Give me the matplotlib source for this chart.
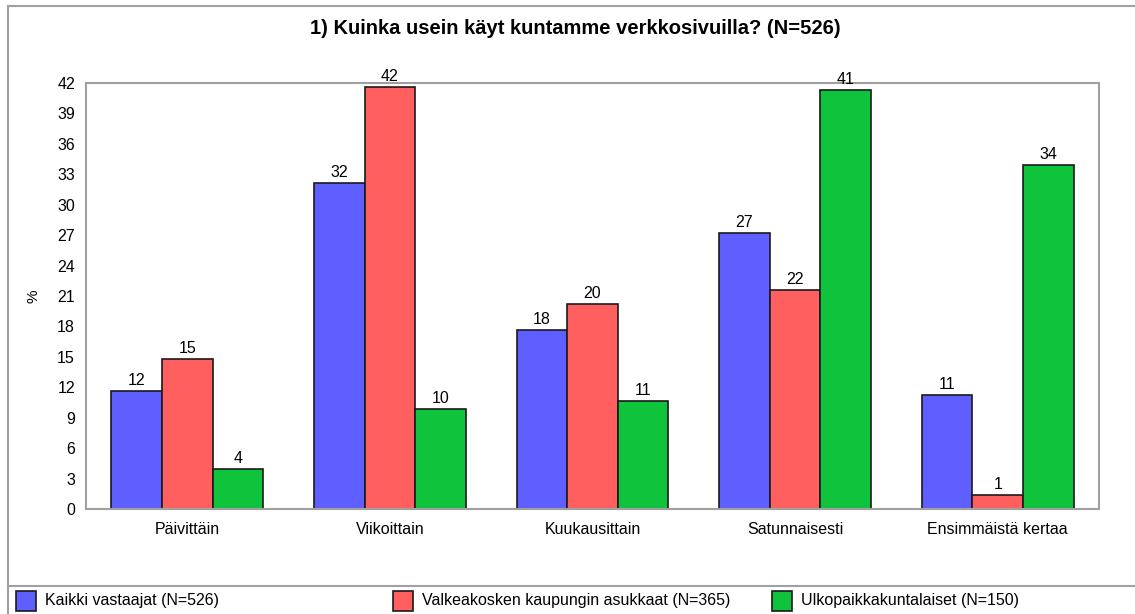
import numpy as np
import matplotlib.pyplot as plt
from matplotlib.patches import Rectangle
from matplotlib.lines import Line2D

plt.rcParams['font.family'] = ['Liberation Sans', 'DejaVu Sans']

categories = ["Päivittäin", "Viikoittain", "Kuukausittain", "Satunnaisesti", "Ensimmäistä kertaa"]
series_names = ["Kaikki vastaajat (N=526)",
                "Valkeakosken kaupungin asukkaat (N=365)",
                "Ulkopaikkakuntalaiset (N=150)"]
kaikki = [11.6, 32.1, 17.6, 27.2, 11.2]
valkeakoski = [14.8, 41.6, 20.2, 21.6, 1.4]
ulko = [3.9, 9.9, 10.6, 41.3, 33.9]
colors = ["#5f5fff", "#ff5f5f", "#0fc43c"]
title = "1) Kuinka usein käyt kuntamme verkkosivuilla? (N=526)"
yticks = list(range(0, 43, 3))

W, H = 1135, 614
fig = plt.figure(figsize=(W/100, H/100), dpi=100)
ax = fig.add_axes([86/W, 1-509/H, (1099-86)/W, (509-83)/H])

x = np.arange(len(categories))
w = 0.25
for k, vals in enumerate([kaikki, valkeakoski, ulko]):
    bars = ax.bar(x + (k-1)*w, vals, w, color=colors[k], edgecolor="#1a1a1a", linewidth=1.2)
    for b, v in zip(bars, vals):
        ax.text(b.get_x() + b.get_width()/2, v + 0.3, str(int(round(v))),
                ha="center", va="bottom", fontsize=11.5)

ax.set_xlim(-0.5, len(categories)-0.5)
ax.set_ylim(0, 42)
ax.set_yticks(yticks)
ax.set_xticks(x)
ax.set_xticklabels(categories, fontsize=11.5)
ax.tick_params(axis="y", length=0, labelsize=11.5, pad=8)
ax.tick_params(axis="x", length=0, pad=9)
for s in ax.spines.values():
    s.set_color("#a0a0a0")
    s.set_linewidth(1.5)
ax.set_ylabel("%", fontsize=11, labelpad=12)

fig.text(575/W, 1-28/H, title, ha="center", va="center", fontsize=14.5, fontweight="bold")

# outer frame and legend separator
frame = "#a0a0a0"
fig.add_artist(Line2D([8/W, 1], [1-5.5/H]*2, color=frame, lw=1.5))
fig.add_artist(Line2D([8/W]*2, [0, 1-5.5/H], color=frame, lw=1.5))
fig.add_artist(Line2D([8/W, 1], [1-586/H]*2, color=frame, lw=1.5))

# legend row
leg_x = [16, 393, 772]
for px, name, c in zip(leg_x, series_names, colors):
    fig.add_artist(Rectangle((px/W, 1-611/H), 20/W, 20/H, facecolor=c,
                             edgecolor="#1a1a1a", linewidth=1.2))
    fig.text((px+29)/W, 1-601/H, name, ha="left", va="center", fontsize=11.5)

fig.savefig("out.png", dpi=100, facecolor="white")
